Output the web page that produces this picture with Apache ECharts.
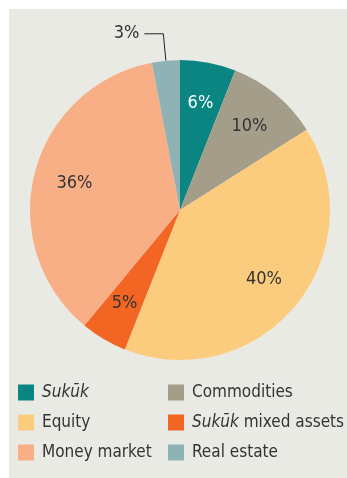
<!DOCTYPE html>
<html><head><meta charset="utf-8">
<script src="https://cdn.jsdelivr.net/npm/echarts@6/dist/echarts.min.js"></script>
<style>html,body{margin:0;padding:0;background:#fff}#c{width:347px;height:478px}</style>
</head><body><div id="c"></div>
<script>
const categories = ['Sukūk', 'Commodities', 'Equity', 'Sukūk mixed assets', 'Money market', 'Real estate'];
const values = [6, 10, 40, 5, 36, 3];
const colors = ['#0a8582', '#a39d89', '#fbcc7e', '#f26522', '#f8af85', '#8fb3b5'];
const labelColors = ['#ffffff', '#333333', '#333333', '#333333', '#333333', '#333333'];
const FONT = '"Liberation Sans Narrow", "DejaVu Sans Condensed", "Roboto", sans-serif';

const chart = echarts.init(document.getElementById('c'), null, {renderer: 'canvas'});
const mainData = categories.map((n, i) => ({
  name: n, value: values[i], itemStyle: {color: colors[i]},
  label: i === 5 ? {show: true, position: 'outside', color: '#333', fontSize: 18, fontFamily: FONT, alignTo: 'none', padding: [6, 0, 0, 0]} : {show: false},
  labelLine: i === 5 ? {show: true, length: 27, length2: 19, lineStyle: {color: '#222', width: 1}} : {show: false}
}));
const labelData = categories.map((n, i) => ({
  name: n, value: values[i],
  itemStyle: {color: 'rgba(0,0,0,0)'},
  label: {show: i !== 5, color: labelColors[i]}
}));
const legendCommon = {
  orient: 'vertical', itemWidth: 16, itemHeight: 16, itemGap: 13, icon: 'rect',
  textStyle: {color: '#333', fontSize: 17, fontFamily: FONT, padding: [0, 0, 0, 3],
    rich: {i: {fontStyle: 'italic', fontSize: 17, fontFamily: FONT, color: '#333'}, n: {fontSize: 17, fontFamily: FONT, color: '#333'}}},
  formatter: function (name) {
    if (name === 'Sukūk') return '{i|Sukūk}';
    if (name === 'Sukūk mixed assets') return '{i|Sukūk} {n|mixed assets}';
    return name;
  },
  selectedMode: false
};
chart.setOption({
  animation: false,
  graphic: [{type: 'rect', shape: {x: 9, y: 9, width: 338, height: 469}, style: {fill: '#eaeae5'}, z: -10}],
  legend: [
    Object.assign({left: 13, top: 379, data: [categories[0], categories[2], categories[4]]}, legendCommon),
    Object.assign({left: 163, top: 379, data: [categories[1], categories[3], categories[5]]}, legendCommon)
  ],
  series: [
    {type: 'pie', center: [180, 210], radius: [0, 150], startAngle: 90, clockwise: true,
     avoidLabelOverlap: false, silent: true, data: mainData,
     label: {formatter: '{c}%'}},
    {type: 'pie', center: [180, 210], radius: [62, 150], startAngle: 90, clockwise: true,
     avoidLabelOverlap: false, silent: true, data: labelData, legendHoverLink: false,
     label: {position: 'inside', formatter: '{c}%', fontSize: 18, fontFamily: FONT},
     labelLine: {show: false}}
  ]
});
</script></body></html>
